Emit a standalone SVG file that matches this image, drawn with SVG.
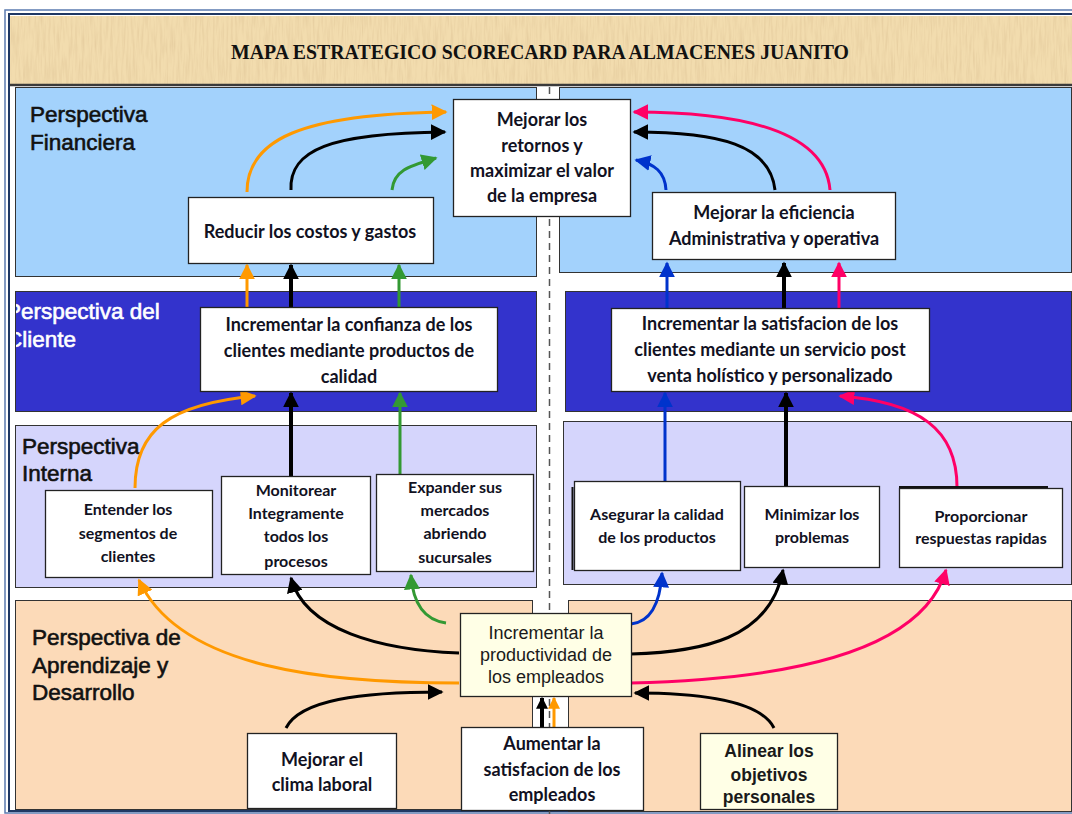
<svg xmlns="http://www.w3.org/2000/svg" width="1072" height="814" viewBox="0 0 1072 814">
  <style>
    .panel { stroke: #333333; stroke-width: 1; }
    .fin { fill: #a3d2fc; }
    .cli { fill: #3333cc; }
    .int { fill: #d5d5fc; }
    .apr { fill: #fcdab8; }
    .box { fill: #ffffff; stroke: #222222; stroke-width: 1.3; }
    .ybox { fill: #ffffe6; stroke: #222222; stroke-width: 1.3; }
    .t { font-family: Lato, "Open Sans", sans-serif; font-weight: 700; font-size: 18px; fill: #111122; text-anchor: middle; }
    .ts { font-family: Lato, "Open Sans", sans-serif; font-weight: 700; font-size: 16px; fill: #111122; text-anchor: middle; }
    .ta { font-family: "Liberation Sans", Arial, sans-serif; font-size: 18px; fill: #1a1a1a; text-anchor: middle; }
    .tab { font-family: "Liberation Sans", Arial, sans-serif; font-weight: 700; font-size: 17.5px; fill: #1a1a1a; text-anchor: middle; }
    .lab { font-family: "Liberation Sans", Arial, sans-serif; font-size: 22.5px; fill: #111111; stroke: #111111; stroke-width: 0.6; }
    .labw { font-family: "Liberation Sans", Arial, sans-serif; font-size: 22.5px; fill: #ffffff; stroke: #ffffff; stroke-width: 0.6; }
    .c { fill: none; stroke-width: 3; }
    .k { stroke: #000000; }
    .o { stroke: #ff9900; }
    .g { stroke: #339933; }
    .b { stroke: #0033cc; }
    .p { stroke: #ff0066; }
    .thick { stroke-width: 4; }
  </style>
  <defs>
    <marker id="ah-k" viewBox="0 0 10 10" refX="9" refY="5" markerWidth="16" markerHeight="16" markerUnits="userSpaceOnUse" orient="auto"><path d="M0,0 L10,5 L0,10 z" fill="#000000"/></marker>
    <marker id="ah-o" viewBox="0 0 10 10" refX="9" refY="5" markerWidth="16" markerHeight="16" markerUnits="userSpaceOnUse" orient="auto"><path d="M0,0 L10,5 L0,10 z" fill="#ff9900"/></marker>
    <marker id="ah-g" viewBox="0 0 10 10" refX="9" refY="5" markerWidth="16" markerHeight="16" markerUnits="userSpaceOnUse" orient="auto"><path d="M0,0 L10,5 L0,10 z" fill="#339933"/></marker>
    <marker id="ah-b" viewBox="0 0 10 10" refX="9" refY="5" markerWidth="16" markerHeight="16" markerUnits="userSpaceOnUse" orient="auto"><path d="M0,0 L10,5 L0,10 z" fill="#0033cc"/></marker>
    <marker id="ah-p" viewBox="0 0 10 10" refX="9" refY="5" markerWidth="16" markerHeight="16" markerUnits="userSpaceOnUse" orient="auto"><path d="M0,0 L10,5 L0,10 z" fill="#ff0066"/></marker>
    <marker id="ah-ks" viewBox="0 0 10 10" refX="9" refY="5" markerWidth="12" markerHeight="12" markerUnits="userSpaceOnUse" orient="auto"><path d="M0,0 L10,5 L0,10 z" fill="#000000"/></marker>
    <marker id="ah-os" viewBox="0 0 10 10" refX="9" refY="5" markerWidth="12" markerHeight="12" markerUnits="userSpaceOnUse" orient="auto"><path d="M0,0 L10,5 L0,10 z" fill="#ff9900"/></marker>
    <filter id="grain" x="0" y="0" width="1" height="1">
      <feTurbulence type="fractalNoise" baseFrequency="0.45 0.035" numOctaves="3" seed="7"/>
      <feColorMatrix type="matrix" values="0 0 0 0 0.78  0 0 0 0 0.60  0 0 0 0 0.34  0 0 0 1.6 -0.62"/>
      <feComposite in2="SourceGraphic" operator="in"/>
    </filter>
    <clipPath id="cli-clip"><rect x="16" y="292" width="520" height="118"/></clipPath>
  </defs>

  <!-- page and frame -->
  <rect x="0" y="0" width="1072" height="814" fill="#ffffff"/>
  <rect x="5" y="10" width="1080" height="803" fill="none" stroke="#5b7bb0" stroke-width="1.5"/>
  <rect x="9" y="14" width="1080" height="797" fill="none" stroke="#1f3864" stroke-width="2"/>

  <!-- title band -->
  <g id="title">
    <rect x="10" y="16" width="1062" height="68" fill="#f2dcae"/>
    <rect x="10" y="16" width="1062" height="68" fill="#f2dcae" filter="url(#grain)"/>
    <line x1="10" y1="85" x2="1072" y2="85" stroke="#3a3a3a" stroke-width="2.5"/>
    <text x="540" y="59" font-family="'Liberation Serif', 'Times New Roman', serif" font-weight="700" font-size="21" fill="#111111" text-anchor="middle" textLength="618" lengthAdjust="spacingAndGlyphs">MAPA ESTRATEGICO SCORECARD PARA ALMACENES JUANITO</text>
  </g>

  <!-- perspective bands -->
  <g id="bands">
    <rect class="panel fin" x="15.5" y="87.5" width="521" height="189"/>
    <rect class="panel fin" x="559.5" y="87.5" width="512" height="185"/>
    <rect class="panel cli" x="15.5" y="291.5" width="521" height="120"/>
    <rect class="panel cli" x="565.5" y="291.5" width="506" height="120"/>
    <rect class="panel int" x="15.5" y="425.5" width="521" height="162"/>
    <rect class="panel int" x="563.5" y="421.5" width="508" height="163"/>
    <rect class="panel apr" x="15.5" y="600.5" width="517" height="209"/>
    <rect class="panel apr" x="568.5" y="600.5" width="503" height="211"/>
    <line x1="549.5" y1="87" x2="549.5" y2="814" stroke="#555555" stroke-width="1.5" stroke-dasharray="7 5"/>
  </g>

  <g id="labels">
    <text class="lab" x="30" y="122">Perspectiva</text>
    <text class="lab" x="30" y="150">Financiera</text>
    <g clip-path="url(#cli-clip)">
      <text class="labw" x="6" y="319">Perspectiva del</text>
      <text class="labw" x="6" y="347">Cliente</text>
    </g>
    <text class="lab" x="22" y="454">Perspectiva</text>
    <text class="lab" x="22" y="481">Interna</text>
    <text class="lab" x="32" y="645">Perspectiva de</text>
    <text class="lab" x="32" y="673">Aprendizaje y</text>
    <text class="lab" x="32" y="700">Desarrollo</text>
  </g>

  <!-- connectors -->
  <g id="connectors">
    <!-- into "Mejorar los retornos" -->
    <path class="c o" d="M247,192 C247,140 300,114 446,112" marker-end="url(#ah-o)"/>
    <path class="c k" d="M291,190 C289,150 330,133 445,132" marker-end="url(#ah-k)"/>
    <path class="c g" d="M392,190 C394,170 410,166 436,158" marker-end="url(#ah-g)"/>
    <path class="c p" d="M830,190 C825,130 740,112 634,112" marker-end="url(#ah-p)"/>
    <path class="c k" d="M775,190 C770,145 720,132 634,132" marker-end="url(#ah-k)"/>
    <path class="c b" d="M666,190 C665,172 655,164 636,160" marker-end="url(#ah-b)"/>
    <!-- client to financial -->
    <path class="c o" d="M247,307 V265" marker-end="url(#ah-o)"/>
    <path class="c k thick" d="M291,307 V265" marker-end="url(#ah-k)"/>
    <path class="c g" d="M399,307 V265" marker-end="url(#ah-g)"/>
    <path class="c b" d="M667,309 V263" marker-end="url(#ah-b)"/>
    <path class="c k thick" d="M784,309 V263" marker-end="url(#ah-k)"/>
    <path class="c p" d="M839,309 V263" marker-end="url(#ah-p)"/>
    <!-- internal to client -->
    <path class="c o" d="M135,488 C135,430 170,404 255,396" marker-end="url(#ah-o)"/>
    <path class="c k thick" d="M291,476 V393" marker-end="url(#ah-k)"/>
    <path class="c g" d="M400,474 V393" marker-end="url(#ah-g)"/>
    <path class="c b" d="M665,481 V393" marker-end="url(#ah-b)"/>
    <path class="c k thick" d="M786,486 V393" marker-end="url(#ah-k)"/>
    <path class="c p" d="M957,487 C957,430 920,402 840,396" marker-end="url(#ah-p)"/>
    <!-- learning to internal -->
    <path class="c o" d="M459,683 C330,683 180,670 139,580" marker-end="url(#ah-o)"/>
    <path class="c k" d="M459,653 C380,650 305,630 291,578" marker-end="url(#ah-k)"/>
    <path class="c g" d="M446,623 C425,620 413,605 411,575" marker-end="url(#ah-g)"/>
    <path class="c b" d="M631,624 C650,622 660,605 662,573" marker-end="url(#ah-b)"/>
    <path class="c k" d="M631,654 C700,652 770,640 783,570" marker-end="url(#ah-k)"/>
    <path class="c p" d="M631,683 C760,680 920,660 946,570" marker-end="url(#ah-p)"/>
    <!-- learning internal links -->
    <path class="c k" d="M286,728 C300,700 360,692 442,692" marker-end="url(#ah-k)"/>
    <path class="c k thick" d="M542,727 V698" marker-end="url(#ah-ks)"/>
    <path class="c o" d="M554,727 V698" marker-end="url(#ah-os)"/>
    <path class="c k" d="M774,728 C760,700 700,693 635,693" marker-end="url(#ah-k)"/>
  </g>

  <!-- financial -->
  <g id="n-retornos">
    <rect class="box" x="453.5" y="99.5" width="177" height="117"/>
    <text class="t" x="542" y="126">Mejorar los</text>
    <text class="t" x="542" y="152">retornos y</text>
    <text class="t" x="542" y="177">maximizar el valor</text>
    <text class="t" x="542" y="202">de la empresa</text>
  </g>
  <g id="n-costos">
    <rect class="box" x="188.5" y="197.5" width="245" height="66"/>
    <text class="t" x="310" y="238">Reducir los costos y gastos</text>
  </g>
  <g id="n-eficiencia">
    <rect class="box" x="652.5" y="192.5" width="243" height="67"/>
    <text class="t" x="774" y="219">Mejorar la eficiencia</text>
    <text class="t" x="774" y="245">Administrativa  y operativa</text>
  </g>

  <!-- client -->
  <g id="n-confianza">
    <rect class="box" x="200.5" y="307.5" width="297" height="84"/>
    <text class="t" x="349" y="331">Incrementar la confianza de los</text>
    <text class="t" x="349" y="357">clientes mediante productos de</text>
    <text class="t" x="349" y="383">calidad</text>
  </g>
  <g id="n-satisfaccion">
    <rect class="box" x="611.5" y="308.5" width="318" height="83"/>
    <text class="t" x="770" y="330">Incrementar la satisfacion de los</text>
    <text class="t" x="770" y="356">clientes mediante un servicio post</text>
    <text class="t" x="770" y="382">venta holístico y personalizado</text>
  </g>

  <!-- internal -->
  <g id="n-segmentos">
    <rect class="box" x="45.5" y="490.5" width="167" height="87"/>
    <text class="ts" x="128" y="515">Entender los</text>
    <text class="ts" x="128" y="539">segmentos de</text>
    <text class="ts" x="128" y="562">clientes</text>
  </g>
  <g id="n-monitorear">
    <rect class="box" x="221.5" y="476.5" width="149" height="98"/>
    <text class="ts" x="296" y="496">Monitorear</text>
    <text class="ts" x="296" y="519">Integramente</text>
    <text class="ts" x="296" y="542">todos los</text>
    <text class="ts" x="296" y="567">procesos</text>
  </g>
  <g id="n-expander">
    <rect class="box" x="376.5" y="474.5" width="157" height="97"/>
    <text class="ts" x="455" y="493">Expander sus</text>
    <text class="ts" x="455" y="516">mercados</text>
    <text class="ts" x="455" y="539">abriendo</text>
    <text class="ts" x="455" y="563">sucursales</text>
  </g>
  <g id="n-calidad">
    <line x1="572.5" y1="487" x2="572.5" y2="570" stroke="#111111" stroke-width="2"/>
    <rect class="box" x="574.5" y="481.5" width="166" height="89"/>
    <text class="ts" x="657" y="520">Asegurar la calidad</text>
    <text class="ts" x="657" y="543">de los productos</text>
  </g>
  <g id="n-problemas">
    <rect class="box" x="744.5" y="486.5" width="135" height="81"/>
    <text class="ts" x="812" y="520">Minimizar  los</text>
    <text class="ts" x="812" y="543">problemas</text>
  </g>
  <g id="n-respuestas">
    <line x1="899" y1="487" x2="1048" y2="487" stroke="#111111" stroke-width="2"/>
    <rect class="box" x="899.5" y="488.5" width="163" height="79"/>
    <text class="ts" x="981" y="522">Proporcionar</text>
    <text class="ts" x="981" y="544">respuestas rapidas</text>
  </g>

  <!-- learning and growth -->
  <g id="n-productividad">
    <rect class="ybox" x="460.5" y="613.5" width="171" height="83"/>
    <text class="ta" x="546" y="639">Incrementar la</text>
    <text class="ta" x="546" y="661">productividad de</text>
    <text class="ta" x="546" y="683">los empleados</text>
  </g>
  <g id="n-clima">
    <rect class="box" x="247.5" y="733.5" width="149" height="75"/>
    <text class="t" x="322" y="766">Mejorar el</text>
    <text class="t" x="322" y="791">clima laboral</text>
  </g>
  <g id="n-satisfaccion-empleados">
    <rect class="box" x="461.5" y="727.5" width="182" height="83"/>
    <text class="t" x="552" y="750">Aumentar la</text>
    <text class="t" x="552" y="776">satisfacion de los</text>
    <text class="t" x="552" y="801">empleados</text>
  </g>
  <g id="n-objetivos">
    <rect class="ybox" x="700.5" y="733.5" width="137" height="76"/>
    <text class="tab" x="769" y="757">Alinear los</text>
    <text class="tab" x="769" y="781">objetivos</text>
    <text class="tab" x="769" y="803">personales</text>
  </g>
</svg>
